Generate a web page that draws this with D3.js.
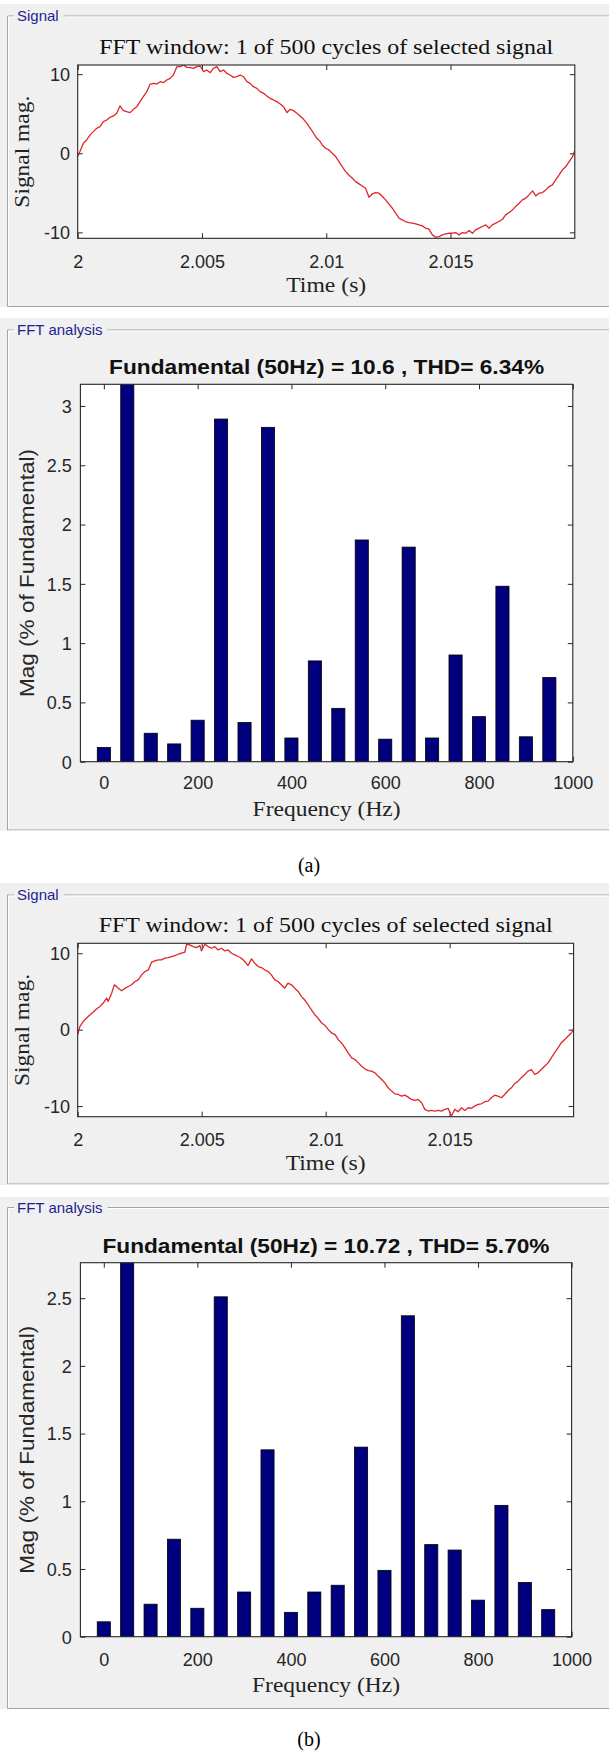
<!DOCTYPE html>
<html><head><meta charset="utf-8">
<script src="https://cdn.jsdelivr.net/npm/d3@7"></script>
<style>body{margin:0;background:#fff}svg{display:block}</style>
</head><body><svg id="c" width="609" height="1752"></svg>
<script>
// ---------------- DATA ----------------
const panelLabels = ["Signal", "FFT analysis"];
const captions = ["(a)", "(b)"];
const signalTitle = "FFT window: 1 of 500 cycles of selected signal";
const fftTitles = ["Fundamental (50Hz) = 10.6 , THD= 6.34%", "Fundamental (50Hz) = 10.72 , THD= 5.70%"];
const timeLabel = "Time (s)", signalYLabel = "Signal mag.";
const freqLabel = "Frequency (Hz)", fftYLabel = "Mag (% of Fundamental)";

const timeStart = 2;                     // s
const timeDomain = [2, 2.02];
const timeTicks = [2, 2.005, 2.01, 2.015];
const timeTickLabels = ["2", "2.005", "2.01", "2.015"];
const signalYTicks = [-10, 0, 10];
const signalAYLim = [-10.75, 11.16];
const signalBYLim = [-11.39, 11.3];

// [ms after 2 s, signal value]
const signalA = [
[0.00,-0.42],[0.09,0.21],[0.23,1.26],[0.36,1.68],[0.50,2.32],[0.63,2.74],[0.77,3.16],[0.90,3.37],[1.03,4.00],[1.17,4.21],
[1.30,4.55],[1.44,4.72],[1.57,5.05],[1.70,5.98],[1.84,5.39],[1.97,5.26],[2.11,5.14],[2.24,5.56],[2.38,5.89],[2.51,6.53],
[2.64,7.16],[2.78,7.79],[2.91,8.72],[3.05,8.84],[3.18,8.76],[3.32,9.05],[3.45,8.93],[3.58,9.26],[3.72,9.47],[3.85,9.89],
[3.99,10.95],[4.12,10.95],[4.26,11.16],[4.39,10.86],[4.52,10.82],[4.66,10.74],[4.79,10.95],[4.93,11.03],[5.06,10.32],[5.19,10.53],
[5.33,10.19],[5.46,10.74],[5.60,10.95],[5.73,10.32],[5.87,10.53],[6.00,10.11],[6.13,9.89],[6.27,9.60],[6.40,9.68],[6.54,9.89],
[6.67,9.68],[6.81,9.05],[6.94,8.84],[7.07,8.42],[7.21,8.21],[7.34,7.79],[7.48,7.58],[7.61,7.24],[7.74,6.95],[7.88,6.74],
[8.01,6.53],[8.15,6.23],[8.28,5.89],[8.42,5.14],[8.55,5.56],[8.68,5.39],[8.82,5.05],[8.95,4.72],[9.09,4.29],[9.22,3.79],
[9.36,3.16],[9.49,2.53],[9.62,1.89],[9.76,1.47],
[9.84,1.05],[9.97,0.63],[10.11,0.42],[10.24,0],[10.38,-0.42],[10.51,-1.05],[10.64,-1.68],[10.78,-2.32],[10.91,-2.74],[11.05,-3.16],
[11.18,-3.58],[11.32,-3.87],[11.45,-4.13],[11.58,-4.42],[11.72,-5.56],[11.85,-5.14],[11.99,-4.97],[12.12,-5.05],[12.26,-5.47],[12.39,-5.89],
[12.52,-6.40],[12.66,-6.95],[12.79,-7.58],[12.93,-8.21],[13.06,-8.42],[13.19,-8.63],[13.33,-8.76],[13.46,-8.84],[13.60,-8.93],[13.73,-9.05],
[13.87,-9.18],[14.00,-9.47],[14.13,-9.60],[14.27,-10.32],[14.40,-10.61],[14.54,-10.53],[14.67,-10.32],[14.81,-10.19],[14.94,-10.11],[15.07,-10.11],
[15.21,-10.02],[15.34,-10.32],[15.48,-10.02],[15.61,-10.11],[15.75,-9.77],[15.88,-10.11],[16.01,-9.68],[16.15,-9.47],[16.28,-9.26],[16.42,-9.05],
[16.55,-9.47],[16.68,-9.05],[16.82,-8.84],[16.95,-8.63],[17.09,-8.34],[17.22,-7.79],[17.36,-7.49],[17.49,-7.16],[17.62,-6.74],[17.76,-6.32],
[17.89,-5.89],[18.03,-5.68],[18.16,-5.26],[18.30,-4.76],[18.43,-5.39],[18.56,-5.05],[18.70,-4.97],[18.83,-4.63],[18.97,-4.21],[19.10,-4.00],
[19.23,-3.37],[19.37,-2.74],[19.50,-2.11],[19.64,-1.68],[19.77,-1.05],[19.91,-0.42],[20.00,0.34]
];
const signalB = [
[0.00,-0.65],[0.09,0.43],[0.23,1.09],[0.36,1.52],[0.50,1.96],[0.63,2.30],[0.77,2.74],[0.90,3.04],[1.03,3.48],[1.17,4.13],
[1.23,3.70],[1.37,4.78],[1.48,5.87],[1.64,5.43],[1.77,5.09],[1.91,5.43],[2.04,5.65],[2.17,5.87],[2.31,6.30],[2.44,6.52],
[2.58,7.17],[2.71,7.61],[2.85,7.83],[2.98,8.83],[3.11,9.00],[3.25,9.13],[3.38,9.13],[3.52,9.35],[3.65,9.43],[3.79,9.57],
[3.92,9.70],[4.05,9.87],[4.19,10.00],[4.32,10.13],[4.39,11.17],[4.52,11.09],[4.66,10.87],[4.79,10.74],[4.93,11.00],[4.99,10.30],
[5.13,11.17],[5.26,10.87],[5.40,10.65],[5.53,10.87],[5.66,10.43],[5.80,10.65],[5.93,10.30],[6.07,10.43],[6.20,10.00],[6.34,9.78],
[6.47,9.57],[6.60,9.35],[6.74,8.91],[6.87,8.39],[7.01,9.26],[7.14,8.70],[7.28,8.26],[7.41,8.13],[7.54,7.83],[7.68,7.61],
[7.81,7.17],[7.95,6.52],[8.08,6.30],[8.21,5.87],[8.35,5.43],[8.48,6.09],[8.62,5.87],[8.75,5.43],[8.89,5.00],[9.02,4.35],
[9.15,3.91],[9.29,3.26],[9.42,2.61],[9.56,1.96],[9.69,1.52],
[9.84,0.87],[9.97,0.57],[10.11,0],[10.24,-0.43],[10.38,-0.65],[10.51,-1.30],[10.64,-1.74],[10.78,-2.39],[10.91,-3.04],[11.05,-3.70],
[11.18,-3.91],[11.32,-4.35],[11.45,-4.78],[11.58,-5.13],[11.72,-5.35],[11.85,-5.43],[11.99,-5.65],[12.12,-6.09],[12.26,-6.52],[12.39,-6.96],
[12.52,-7.61],[12.66,-8.04],[12.79,-8.39],[12.93,-8.48],[13.06,-8.70],[13.19,-8.57],[13.33,-8.83],[13.46,-9.13],[13.60,-9.26],[13.73,-9.13],
[13.87,-9.57],[14.00,-10.43],[14.13,-10.65],[14.27,-10.57],[14.40,-10.65],[14.54,-10.57],[14.67,-10.65],[14.81,-10.43],[14.94,-10.30],[15.07,-11.30],
[15.21,-10.43],[15.34,-10.74],[15.48,-10.22],[15.61,-10.57],[15.75,-10.22],[15.88,-10.30],[16.01,-10.00],[16.15,-9.78],[16.28,-9.70],[16.42,-9.43],
[16.55,-9.35],[16.68,-8.91],[16.82,-8.57],[16.95,-8.70],[17.09,-8.91],[17.22,-8.48],[17.36,-7.96],[17.49,-7.61],[17.62,-7.09],[17.76,-6.74],
[17.89,-6.30],[18.03,-5.87],[18.16,-5.43],[18.30,-5.22],[18.43,-5.87],[18.56,-5.65],[18.70,-5.22],[18.83,-4.78],[18.97,-4.35],[19.10,-3.70],
[19.23,-3.04],[19.37,-2.39],[19.50,-1.74],[19.64,-1.30],[19.77,-0.87],[19.91,-0.43],[20.00,0.13]
];

const harmonicsHz = [0,50,100,150,200,250,300,350,400,450,500,550,600,650,700,750,800,850,900,950];
const fftA = [0.12,100,0.24,0.15,0.35,2.89,0.33,2.82,0.20,0.85,0.45,1.87,0.19,1.81,0.20,0.90,0.38,1.48,0.21,0.71];
const fftB = [0.11,100,0.24,0.72,0.21,2.51,0.33,1.38,0.18,0.33,0.38,1.40,0.49,2.37,0.68,0.64,0.27,0.97,0.40,0.20];
const freqDomain = [-50, 1000];
const freqTicks = [0,200,400,600,800,1000];
const fftATicks = [0,0.5,1,1.5,2,2.5,3];
const fftBTicks = [0,0.5,1,1.5,2,2.5];
const fftAYLim = [0, 3.183];
const fftBYLim = [0, 2.762];
const barWidthHz = 28;

// ---------------- STYLE / LAYOUT ----------------
const SANS = "'Liberation Sans', Arial, sans-serif";
const SERIF = "'Liberation Serif', 'Times New Roman', serif";
const AX = "#262626";
const svg = d3.select("#c");
let clipId = 0;

function panel(bgTop, bgBot, frameTop, frameBot, label) {
  svg.append("rect").attr("x",0).attr("y",bgTop).attr("width",609).attr("height",bgBot-bgTop).attr("fill","#f0f0f0");
  const t = svg.append("text").attr("x",17).attr("y",frameTop).attr("dy","0.35em")
    .attr("font-family",SANS).attr("font-size",15).attr("fill","#1f1f8f").text(label);
  const tw = t.node().getComputedTextLength();
  const g = svg.append("g").attr("fill","none");
  const lines = [[7.5,frameTop,14,frameTop],[17+tw+5,frameTop,609,frameTop],[7.5,frameTop,7.5,frameBot],[7.5,frameBot,609,frameBot]];
  lines.forEach(l=>{
    g.append("line").attr("x1",l[0]).attr("y1",l[1]).attr("x2",l[2]).attr("y2",l[3]).attr("stroke","#a5a5a5");
    g.append("line").attr("x1",l[0]+1).attr("y1",l[1]+1).attr("x2",l[2]+1).attr("y2",l[3]+1).attr("stroke","#ffffff");
  });
}

function axesFrame(x, y, x0, x1, y0, y1, xt, yt, xfmt, yfmt, xPad, yPad) {
  svg.append("rect").attr("x",x0).attr("y",y0).attr("width",x1-x0).attr("height",y1-y0).attr("fill","#fff");
  const gb = svg.append("g").attr("transform",`translate(0,${y1})`)
    .call(d3.axisBottom(x).tickValues(xt).tickSize(-5).tickSizeOuter(0).tickFormat(xfmt));
  gb.selectAll("text").attr("y",xPad).attr("dy","0.35em");
  const gt = svg.append("g").attr("transform",`translate(0,${y0})`)
    .call(d3.axisTop(x).tickValues(xt).tickSize(-5).tickSizeOuter(0).tickFormat(""));
  const gl = svg.append("g").attr("transform",`translate(${x0},0)`)
    .call(d3.axisLeft(y).tickValues(yt).tickSize(-5).tickSizeOuter(0).tickFormat(yfmt));
  gl.selectAll("text").attr("x",-yPad).attr("dy","0.35em");
  const gr = svg.append("g").attr("transform",`translate(${x1},0)`)
    .call(d3.axisRight(y).tickValues(yt).tickSize(-5).tickSizeOuter(0).tickFormat(""));
  [gb,gt,gl,gr].forEach(g=>{
    g.select(".domain").remove();
    g.selectAll("line").attr("stroke",AX);
    g.selectAll("text").attr("font-family",SANS).attr("font-size",18).attr("fill",AX);
    g.attr("font-size",null).attr("font-family",null);
  });
}
function box(x0,x1,y0,y1){
  svg.append("rect").attr("x",x0).attr("y",y0).attr("width",x1-x0).attr("height",y1-y0)
    .attr("fill","none").attr("stroke",AX).attr("stroke-width",1.1);
}
function clip(x0,x1,y0,y1){
  const id = "clip"+(clipId++);
  svg.append("clipPath").attr("id",id).append("rect").attr("x",x0).attr("y",y0).attr("width",x1-x0).attr("height",y1-y0);
  return `url(#${id})`;
}

function signalPlot(o) {
  const {x0,x1,y0,y1,data,yLim,titleY,xtY,xlY} = o;
  const x = d3.scaleLinear().domain(timeDomain).range([x0,x1]);
  const y = d3.scaleLinear().domain(yLim).range([y1,y0]);
  axesFrame(x,y,x0,x1,y0,y1,timeTicks,signalYTicks,(d,i)=>timeTickLabels[i],d=>String(d),xtY-y1,7.7);
  const line = d3.line().x(d=>x(timeStart + d[0]/1000)).y(d=>y(d[1]));
  svg.append("path").datum(data).attr("d",line).attr("fill","none")
    .attr("stroke","#e0262a").attr("stroke-width",1.3).attr("stroke-linejoin","round")
    .attr("clip-path",clip(x0,x1,y0,y1));
  box(x0,x1,y0,y1);
  svg.append("text").attr("x",(x0+x1)/2).attr("y",titleY).attr("dy","0.35em").attr("text-anchor","middle")
    .attr("font-family",SERIF).attr("font-size",20).attr("fill","#111")
    .attr("textLength",454).attr("lengthAdjust","spacingAndGlyphs").text(signalTitle);
  svg.append("text").attr("x",(x0+x1)/2).attr("y",xlY).attr("dy","0.35em").attr("text-anchor","middle")
    .attr("font-family",SERIF).attr("font-size",21).attr("fill","#222")
    .attr("textLength",80).attr("lengthAdjust","spacingAndGlyphs").text(timeLabel);
  svg.append("text").attr("transform",`translate(21.4,${(y0+y1)/2}) rotate(-90)`).attr("dy","0.35em")
    .attr("text-anchor","middle").attr("font-family",SERIF).attr("font-size",21).attr("fill","#222")
    .attr("textLength",112).attr("lengthAdjust","spacingAndGlyphs").text(signalYLabel);
}

function fftPlot(o) {
  const {x0,x1,y0,y1,vals,yLim,ticks,title,titleY,titleW,xtY,xlY} = o;
  const x = d3.scaleLinear().domain(freqDomain).range([x0,x1]);
  const y = d3.scaleLinear().domain(yLim).range([y1,y0]);
  axesFrame(x,y,x0,x1,y0,y1,freqTicks,ticks,d=>String(d),d=>String(d),xtY-y1,8.6);
  svg.append("g").attr("clip-path",clip(x0,x1,y0,y1)).selectAll("rect")
    .data(d3.zip(harmonicsHz,vals)).join("rect")
    .attr("x",d=>x(d[0]-barWidthHz/2)).attr("width",d=>x(d[0]+barWidthHz/2)-x(d[0]-barWidthHz/2))
    .attr("y",d=>y(d[1])).attr("height",d=>y(0)-y(d[1]))
    .attr("fill","#00007f").attr("stroke","#000").attr("stroke-width",0.8);
  box(x0,x1,y0,y1);
  svg.append("text").attr("x",(x0+x1)/2).attr("y",titleY).attr("dy","0.35em").attr("text-anchor","middle")
    .attr("font-family",SANS).attr("font-weight","bold").attr("font-size",21).attr("fill","#111")
    .attr("textLength",titleW).attr("lengthAdjust","spacingAndGlyphs").text(title);
  svg.append("text").attr("x",(x0+x1)/2).attr("y",xlY).attr("dy","0.35em").attr("text-anchor","middle")
    .attr("font-family",SERIF).attr("font-size",21).attr("fill","#222")
    .attr("textLength",148).attr("lengthAdjust","spacingAndGlyphs").text(freqLabel);
  svg.append("text").attr("transform",`translate(27,${(y0+y1)/2}) rotate(-90)`).attr("dy","0.35em")
    .attr("text-anchor","middle").attr("font-family",SANS).attr("font-size",21).attr("fill",AX)
    .attr("textLength",248).attr("lengthAdjust","spacingAndGlyphs").text(fftYLabel);
}

function caption(txt, y) {
  svg.append("text").attr("x",309).attr("y",y).attr("dy","0.35em").attr("text-anchor","middle")
    .attr("font-family",SERIF).attr("font-size",20).attr("fill","#000").text(txt);
}

// ---- (a) ----
panel(4, 307, 16, 306.5, panelLabels[0]);
signalPlot({x0:77.7,x1:574.8,y0:65,y1:238.3,data:signalA,yLim:signalAYLim,titleY:46.7,xtY:261.7,xlY:285});
panel(318, 831, 330, 830, panelLabels[1]);
fftPlot({x0:80.4,x1:572.8,y0:384.3,y1:761.7,vals:fftA,yLim:fftAYLim,ticks:fftATicks,title:fftTitles[0],titleY:366.7,titleW:435,xtY:782.7,xlY:808.3});
caption(captions[0], 865);

// ---- (b) ----
panel(883, 1185, 895, 1184, panelLabels[0]);
signalPlot({x0:77.7,x1:573.6,y0:943.3,y1:1116.7,data:signalB,yLim:signalBYLim,titleY:925,xtY:1140,xlY:1163});
panel(1197, 1709, 1207.5, 1708.5, panelLabels[1]);
fftPlot({x0:80.4,x1:571.6,y0:1262.7,y1:1636.7,vals:fftB,yLim:fftBYLim,ticks:fftBTicks,title:fftTitles[1],titleY:1246,titleW:447,xtY:1659.3,xlY:1685});
caption(captions[1], 1738.5);
</script></body></html>
